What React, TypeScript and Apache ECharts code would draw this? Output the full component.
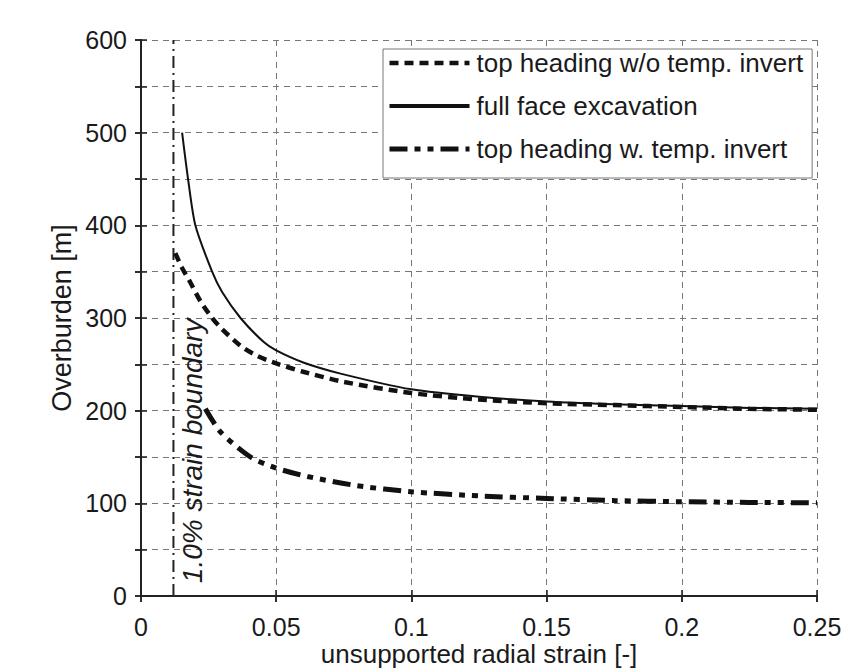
import React, { useEffect, useRef } from "react";
import * as echarts from "echarts";

const X_NAME = "unsupported radial strain [-]";
const Y_NAME = "Overburden [m]";
const STRAIN_LABEL = "1.0% strain boundary";
const strainBoundaryX = 0.012;
const strainBoundaryY = [0, 600];

const seriesNames = [
  "top heading w/o temp. invert",
  "full face excavation",
  "top heading w. temp. invert",
];

const noInvertX = [0.0127, 0.015, 0.0183, 0.022, 0.0263, 0.03, 0.0368, 0.043, 0.05, 0.06, 0.075, 0.1, 0.125, 0.15, 0.175, 0.2, 0.225, 0.25];
const noInvertY = [370, 355, 338, 318, 300, 288, 270, 259, 251, 242, 231, 219, 212, 208, 206, 204, 202, 201];

const fullFaceX = [0.0152, 0.0174, 0.0201, 0.0263, 0.03, 0.0368, 0.0454, 0.05, 0.06, 0.0738, 0.1, 0.125, 0.15, 0.175, 0.2, 0.225, 0.25];
const fullFaceY = [500, 450, 400, 350, 328, 300, 274, 265, 252, 240, 223, 215, 210, 207, 205, 203, 202];

const withInvertX = [0.0238, 0.0294, 0.0405, 0.05, 0.0615, 0.08, 0.1, 0.125, 0.15, 0.175, 0.2, 0.225, 0.25];
const withInvertY = [202, 177, 150, 138, 129, 119, 112.5, 108, 105.3, 103, 101.7, 101, 100.6];

const zip = (xs: number[], ys: number[]) => xs.map((x, i) => [x, ys[i]]);

const FONT = "'Liberation Sans', Arial, sans-serif";
const TXT = "#1a1a1a";

export default function App() {
  const ref = useRef<HTMLDivElement>(null);
  useEffect(() => {
    if (!ref.current) return;
    const chart = echarts.init(ref.current, undefined, { renderer: "svg" });
    const gridRect = { left: 141, right: 30, top: 40, bottom: 76, outerBoundsMode: "none", containLabel: false };
    const xBase = { type: "value", min: 0, max: 0.25, interval: 0.05 };
    const yBase = { type: "value", min: 0, max: 600, interval: 50 };
    const axisLine = { show: true, lineStyle: { color: "#222", width: 2 } };
    const tick = (inside: boolean) => ({ show: true, inside, length: 6, lineStyle: { color: "#222", width: 1.5 } });
    const option: any = {
      animation: false,
      backgroundColor: "#fff",
      grid: [
        { ...gridRect },
        { ...gridRect },
      ],
      xAxis: [
        {
          ...xBase, gridIndex: 0, position: "bottom",
          axisLine, axisTick: tick(false),
          axisLabel: { color: TXT, fontSize: 25, fontFamily: FONT, margin: 18, lineHeight: 25 },
          splitLine: { show: true, lineStyle: { color: "#777", width: 1, type: [6, 5] } },
          name: X_NAME, nameLocation: "middle", nameGap: 45, nameMoveOverlap: false,
          nameTextStyle: { color: TXT, fontSize: 26, fontFamily: FONT, lineHeight: 26 },
        },
        {
          ...xBase, gridIndex: 0, position: "top",
          axisLine, axisTick: tick(true), axisLabel: { show: false }, splitLine: { show: false },
        },
        {
          ...xBase, gridIndex: 1, position: "bottom",
          axisLine: { show: false }, axisTick: tick(true), axisLabel: { show: false }, splitLine: { show: false },
        },
      ],
      yAxis: [
        {
          ...yBase, gridIndex: 0, position: "left",
          axisLine, axisTick: tick(false),
          axisLabel: {
            color: TXT, fontSize: 25, fontFamily: FONT, margin: 14,
            formatter: (v: number) => (v % 100 === 0 ? String(v) : ""),
          },
          splitLine: { show: true, lineStyle: { color: "#777", width: 1, type: [6, 5] } },
          name: Y_NAME, nameLocation: "middle", nameGap: 66, nameRotate: 90, nameMoveOverlap: false,
          nameTextStyle: { color: TXT, fontSize: 27, fontFamily: FONT },
        },
        {
          ...yBase, gridIndex: 0, position: "right",
          axisLine, axisTick: tick(true), axisLabel: { show: false }, splitLine: { show: false },
        },
        {
          ...yBase, gridIndex: 1, position: "left",
          axisLine: { show: false }, axisTick: tick(true), axisLabel: { show: false }, splitLine: { show: false },
        },
      ],
      legend: {
        orient: "vertical",
        left: 383,
        top: 49,
        backgroundColor: "#fff",
        borderColor: "#777",
        borderWidth: 1,
        padding: [0, 9, 15, 4],
        itemWidth: 80,
        itemHeight: 14,
        itemGap: 15,
        textStyle: { color: TXT, fontSize: 26, fontFamily: FONT, lineHeight: 28, padding: [0, 0, 0, 2] },
        lineStyle: { width: "inherit" },
        itemStyle: { color: "rgba(0,0,0,0)", borderColor: "rgba(0,0,0,0)", borderWidth: 0, opacity: 0 },
        data: [
          { name: seriesNames[0] },
          { name: seriesNames[1], lineStyle: { width: 4 } },
          { name: seriesNames[2] },
        ],
      },
      series: [
        {
          name: seriesNames[0], type: "line", xAxisIndex: 0, yAxisIndex: 0,
          data: zip(noInvertX, noInvertY), symbol: "none", showSymbol: false,
          smooth: 0.25,
          lineStyle: { color: "#111", width: 4.5, type: [9, 6] },
          itemStyle: { color: "#111" },
          z: 3,
        },
        {
          name: seriesNames[1], type: "line", xAxisIndex: 0, yAxisIndex: 0,
          data: zip(fullFaceX, fullFaceY), symbol: "none", showSymbol: false,
          smooth: 0.25,
          lineStyle: { color: "#111", width: 2 },
          itemStyle: { color: "#111" },
          z: 4,
        },
        {
          name: seriesNames[2], type: "line", xAxisIndex: 0, yAxisIndex: 0,
          data: zip(withInvertX, withInvertY), symbol: "none", showSymbol: false,
          smooth: 0.25,
          lineStyle: { color: "#111", width: 5, type: [18, 7, 6, 7, 6, 7] },
          itemStyle: { color: "#111" },
          z: 3,
        },
        {
          name: "strain boundary", type: "line", xAxisIndex: 0, yAxisIndex: 0,
          data: strainBoundaryY.map((y) => [strainBoundaryX, y]), symbol: "none", showSymbol: false,
          lineStyle: { color: "#222", width: 2, type: [12, 5, 2, 5] },
          itemStyle: { color: "#222" },
          z: 2,
        },
      ],
    };
    chart.setOption(option);
    const p = chart.convertToPixel({ xAxisIndex: 0, yAxisIndex: 0 }, [strainBoundaryX, 16]) as number[];
    chart.setOption({
      graphic: [
        {
          type: "text",
          x: p[0] + 5,
          y: p[1] + 2,
          rotation: Math.PI / 2,
          style: {
            text: STRAIN_LABEL,
            fill: TXT,
            font: `italic 28px ${FONT}`,
            textAlign: "left",
            textVerticalAlign: "top",
          },
          z: 10,
        },
      ],
    });
    return () => chart.dispose();
  }, []);
  return (
    <div
      ref={ref}
      style={{ position: "fixed", left: 0, top: 0, width: 847, height: 672, background: "#fff" }}
    />
  );
}
